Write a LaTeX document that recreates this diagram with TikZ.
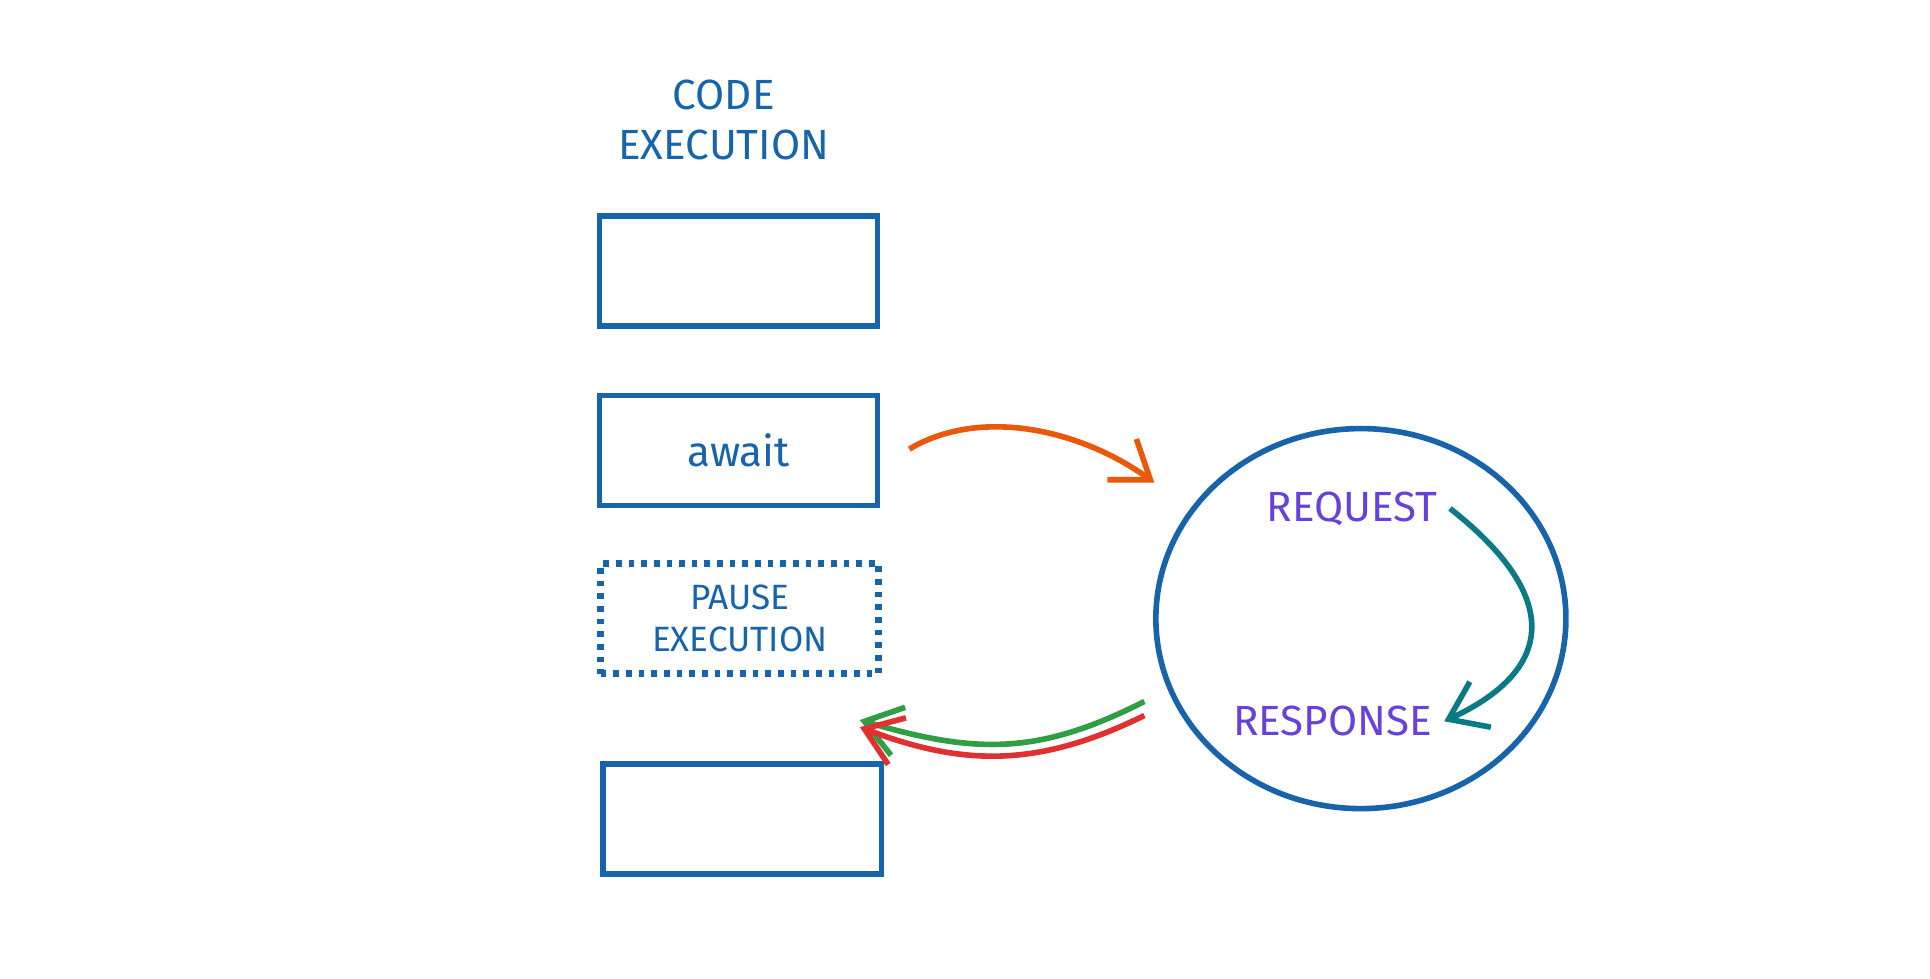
\documentclass[tikz,border=0pt]{standalone}
\usepackage{fontspec}
\setmainfont{Fira Sans}
\usetikzlibrary{shapes.geometric,arrows.meta,positioning}
\definecolor{codeblue}{HTML}{1864AB}
\definecolor{reqpurple}{HTML}{6741D9}
\definecolor{awaitorange}{HTML}{E8590C}
\definecolor{loopteal}{HTML}{0C7A85}
\definecolor{okgreen}{HTML}{2F9E44}
\definecolor{errred}{HTML}{E03131}
\tikzset{
    block/.style={rectangle, draw=codeblue, line width=1.6pt, minimum width=2.78cm, minimum height=1.1cm, text=codeblue, font=\large},
    pause/.style={block, dotted, line width=2pt, align=center, font=\normalsize},
    label/.style={text=reqpurple, font=\large},
    line/.style={line width=1.6pt, -{Straight Barb[length=3.5mm,width=5mm]}}
}
\begin{document}
\begin{tikzpicture}[x=0.1237mm, y=-0.1237mm]
    \useasboundingbox (0,0) rectangle (1560,791);
    % Code execution column
    \node [text=codeblue, align=center, font=\large] (title) at (585,97) {CODE\\EXECUTION};
    \node [block] (first) at (597,219) {};
    \node [block] (await) at (597,364) {await};
    \node [pause] (pause) at (598,500) {PAUSE\\EXECUTION};
    \node [block] (last) at (600,662) {};

    % Event loop
    \node [ellipse, draw=codeblue, line width=1.6pt, minimum width=4.1cm, minimum height=3.8cm] (loop) at (1100,500) {};
    \node [label] (request) at (1093,411) {REQUEST};
    \node [label] (response) at (1077,583) {RESPONSE};

    % Connections
    \coordinate (await-out) at (735,363);
    \coordinate (loop-in) at (933,390);
    \coordinate (loop-out) at (925,567);
    \coordinate (back-in) at (695,582);
    \draw [line, awaitorange] (await-out) .. controls (790,330) and (870,345) .. (loop-in);
    \draw [line, loopteal] (request.east) .. controls (1260,480) and (1260,540) .. (response.east);
    \draw [line, okgreen] (loop-out) .. controls (840,610) and (790,610) .. (back-in);
    \draw [line, errred] ([yshift=-4]loop-out) .. controls (840,620) and (780,620) .. ([yshift=-2]back-in);
\end{tikzpicture}
\end{document}
